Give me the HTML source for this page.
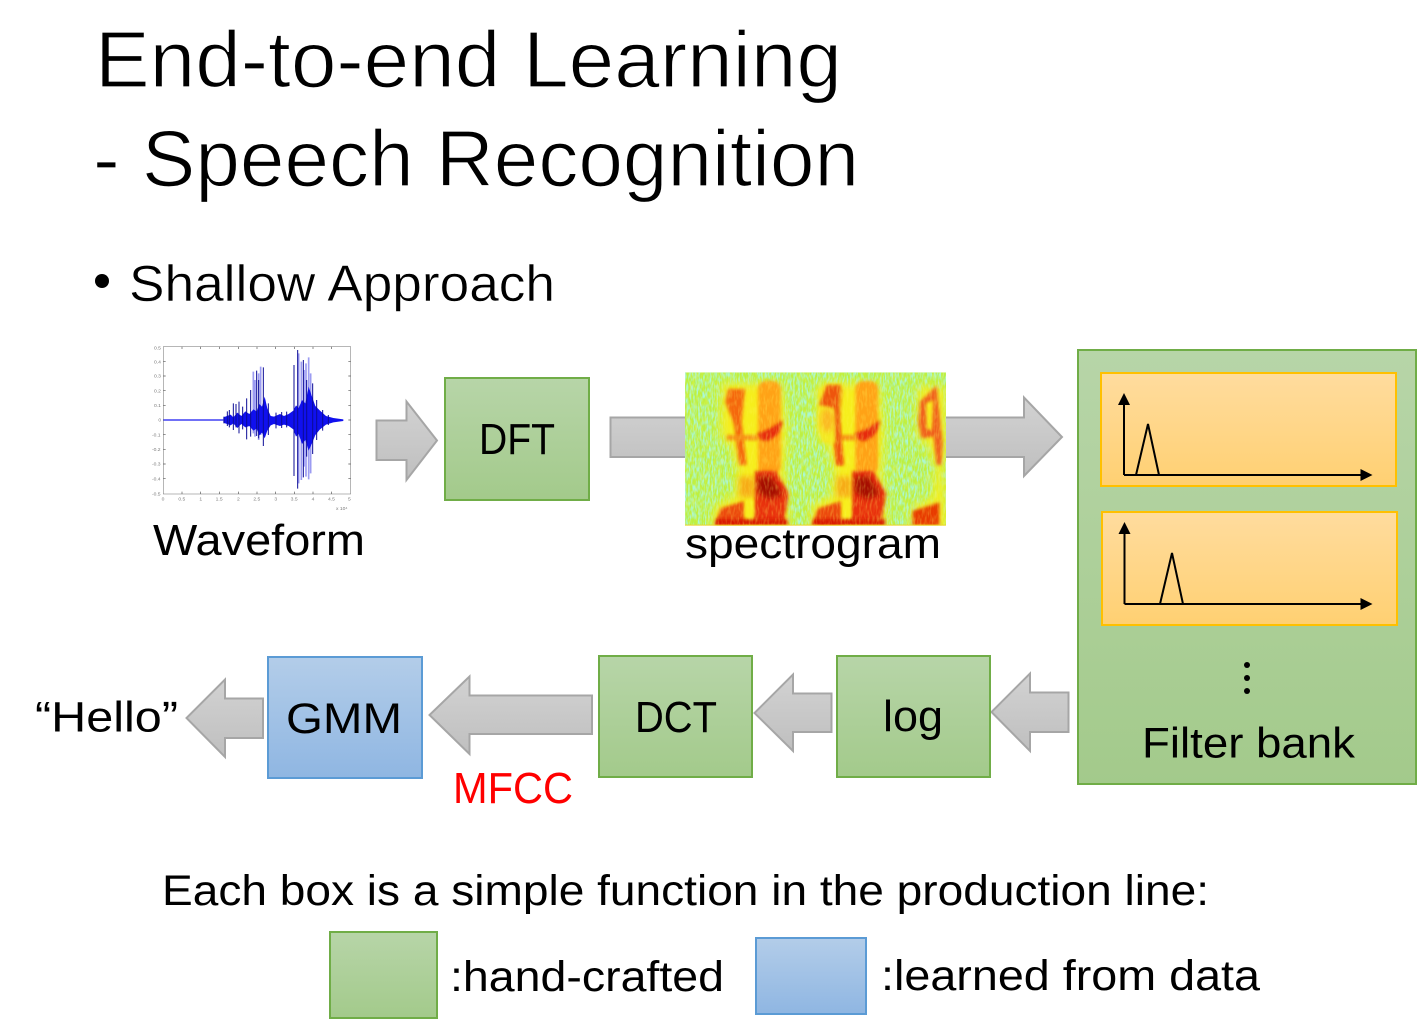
<!DOCTYPE html>
<html><head><meta charset="utf-8"><style>
html,body{margin:0;padding:0;background:#fff;width:1417px;height:1019px;overflow:hidden}
svg{display:block}
text{font-family:"Liberation Sans",sans-serif;fill:#000}
.t{stroke:#fff;stroke-width:1.3px}
.s{stroke:#fff;stroke-width:.5px}
.k{font-size:15px}
</style></head><body>
<svg width="1417" height="1019" viewBox="0 0 1417 1019" xmlns="http://www.w3.org/2000/svg">
<defs>
<linearGradient id="g" x1="0" y1="0" x2="0" y2="1"><stop offset="0" stop-color="#b7d5a8"/><stop offset="1" stop-color="#a3ca8b"/></linearGradient>
<linearGradient id="b" x1="0" y1="0" x2="0" y2="1"><stop offset="0" stop-color="#b3cde9"/><stop offset="1" stop-color="#8fb6e2"/></linearGradient>
<linearGradient id="o" x1="0" y1="0" x2="0" y2="1"><stop offset="0" stop-color="#ffdc9e"/><stop offset="1" stop-color="#ffd072"/></linearGradient>
<linearGradient id="a" x1="0" y1="0" x2="0" y2="1"><stop offset="0" stop-color="#d2d2d2"/><stop offset="1" stop-color="#bfbfbf"/></linearGradient>
<filter id="noise" x="0" y="0" width="100%" height="100%"><feTurbulence type="fractalNoise" baseFrequency="0.2 0.05" numOctaves="2" seed="4"/><feColorMatrix type="matrix" values="0 0 0 0 0.40  0 0 0 0 0.93  0 0 0 0 0.68  3 0 0 0 -1.15"/></filter>
<filter id="noise2" x="0" y="0" width="100%" height="100%"><feTurbulence type="fractalNoise" baseFrequency="0.16 0.04" numOctaves="2" seed="9"/><feColorMatrix type="matrix" values="0 0 0 0 1  0 0 0 0 0.92  0 0 0 0 0.1  3 0 0 0 -1.3"/></filter>
<filter id="b1" x="-40%" y="-40%" width="180%" height="180%"><feGaussianBlur stdDeviation="14"/></filter>
<filter id="b2" x="-40%" y="-40%" width="180%" height="180%"><feGaussianBlur stdDeviation="9"/></filter>
<filter id="b3" x="-40%" y="-40%" width="180%" height="180%"><feGaussianBlur stdDeviation="5"/></filter>
<clipPath id="sc"><rect x="15" y="22" width="783" height="460"/></clipPath>
<g id="word">
<path d="M125 55H305L320 200L312 320L328 490H95L105 420L165 395L170 310L150 235L120 215Z" fill="#f6ee1c" filter="url(#b1)"/>
<rect x="234" y="48" width="68" height="280" rx="24" fill="#ffa212" filter="url(#b3)"/>
<path d="M145 72H195L185 170L200 300H178L162 180L136 110Z" fill="#f5680f" filter="url(#b3)"/>
<path d="M232 205Q270 195 308 165Q304 212 262 228Q236 228 232 205Z" fill="#e62a08" filter="url(#b3)"/>
<rect x="140" y="210" width="95" height="16" fill="#f79012" filter="url(#b3)"/>
<path d="M225 318H288L326 385L312 470H222Z" fill="#e93208" filter="url(#b3)"/>
<path d="M232 335H275L308 388L270 402L232 382Z" fill="#a40c04" filter="url(#b2)"/>
<path d="M122 430L192 408V482H103Z" fill="#ec4a08" filter="url(#b3)"/>
<rect x="178" y="335" width="44" height="62" fill="#f7a012" filter="url(#b2)" opacity=".85"/>
<rect x="108" y="462" width="215" height="20" fill="#d81804" filter="url(#b3)"/>
<rect x="198" y="405" width="22" height="50" fill="#f8ee1c" filter="url(#b3)"/>
</g>
</defs>

<text class="t" x="95" y="87" font-size="80" textLength="747" lengthAdjust="spacingAndGlyphs">End-to-end Learning</text>
<text class="t" x="93" y="186" font-size="80" textLength="766" lengthAdjust="spacingAndGlyphs">- Speech Recognition</text>
<circle cx="102" cy="281" r="7"/>
<text class="s" x="129" y="301" font-size="51" textLength="426" lengthAdjust="spacingAndGlyphs">Shallow Approach</text>

<!-- waveform -->
<g transform="translate(140,340) scale(.33333)">
<rect x="70" y="20" width="562" height="442" fill="#fff" stroke="#777" stroke-width="1.6"/>
<g stroke="#555" stroke-width="2">
<path d="M70 64h7M70 108h7M70 152h7M70 196h7M70 240h7M70 284h7M70 328h7M70 372h7M70 416h7M632 64h-7M632 108h-7M632 152h-7M632 196h-7M632 240h-7M632 284h-7M632 328h-7M632 372h-7M632 416h-7M126 462v-7M182 462v-7M238 462v-7M295 462v-7M351 462v-7M407 462v-7M463 462v-7M519 462v-7M575 462v-7M126 20v7M182 20v7M238 20v7M295 20v7M351 20v7M407 20v7M463 20v7M519 20v7M575 20v7"/>
</g>
<g opacity=".55">
<text class="k" x="42" y="28">0.5</text><text class="k" x="42" y="70">0.4</text><text class="k" x="42" y="113">0.3</text><text class="k" x="42" y="157">0.2</text><text class="k" x="42" y="201">0.1</text><text class="k" x="55" y="245">0</text><text class="k" x="36" y="289">-0.1</text><text class="k" x="36" y="333">-0.2</text><text class="k" x="36" y="377">-0.3</text><text class="k" x="36" y="421">-0.4</text><text class="k" x="36" y="466">-0.5</text>
<text class="k" x="65" y="482">0</text><text class="k" x="115" y="482">0.5</text><text class="k" x="178" y="482">1</text><text class="k" x="227" y="482">1.5</text><text class="k" x="291" y="482">2</text><text class="k" x="340" y="482">2.5</text><text class="k" x="403" y="482">3</text><text class="k" x="452" y="482">3.5</text><text class="k" x="515" y="482">4</text><text class="k" x="564" y="482">4.5</text><text class="k" x="624" y="482">5</text><text class="k" x="588" y="510">x 10⁴</text>
</g>
<path d="M484 65V420M498 70V410M506 52V418M512 100V400M340 95V280M362 80V285M476 40V430M345 120V290M356 100V300M492 90V380" stroke="#9c9cf2" stroke-width="5" fill="none"/>
<path d="M70 240H250" stroke="#1a1af0" stroke-width="3.500" fill="none"/>
<path d="M250 232L272 224L280 232L292 218L304 228L316 214L328 222L340 208L350 214L358 192L366 200L374 170L382 205L392 228L402 230L420 222L432 228L446 222L460 212L468 196L476 204L486 180L496 190L506 140L516 170L526 198L540 212L558 228L580 234L610 238V243L580 247L558 254L540 268L526 285L516 310L506 332L496 300L486 312L476 282L468 290L460 268L446 258L432 254L420 258L402 252L392 256L382 272L374 295L366 278L358 286L350 266L340 272L328 258L316 262L304 252L292 264L280 250L272 256L250 248Z" fill="#1010ee"/>
<path d="M252 230V250M262 214V258M268 210V262M280 190V270M288 192V262M297 185V280M308 200V268M320 175V298M332 150V290M350 92V288M356 120V295M370 82V318M385 190V285M408 218V265M425 216V264M440 215V262M462 75V408M473 30V446M490 60V412M500 120V350M518 130V342M530 180V300M548 210V272M565 225V255" stroke="#0c0c96" stroke-width="3" fill="none"/>
</g>
<text x="153" y="555" font-size="44" textLength="212" lengthAdjust="spacingAndGlyphs">Waveform</text>

<!-- arrows -->
<g fill="url(#a)" stroke="#a6a6a6" stroke-width="2">
<polygon points="376.500,420.500 406.500,420.500 406.500,401.500 437,440.500 406.500,480 406.500,460 376.500,460"/>
<polygon points="610.500,417.500 1024,417.500 1024,397.500 1062,437 1024,476 1024,457 610.500,457"/>
<polygon points="1068.500,692.500 1030,692.500 1030,673.500 991.500,712 1030,751 1030,732 1068.500,732"/>
<polygon points="831.500,693.500 793,693.500 793,674.500 754.500,713 793,751 793,732 831.500,732"/>
<polygon points="592,695.500 469.500,695.500 469.500,676.500 429.500,715 469.500,754 469.500,734 592,734"/>
<polygon points="263,698.500 225,698.500 225,679.500 186.500,718 225,757 225,738 263,738"/>
</g>

<!-- spectrogram -->
<g transform="translate(680,365) scale(.33333)" clip-path="url(#sc)">
<rect x="15" y="22" width="783" height="460" fill="#bdf040"/>
<rect x="15" y="22" width="783" height="460" filter="url(#noise)"/>
<use href="#word"/>
<use href="#word" transform="translate(292,0)"/>
<path d="M414 75L440 55H486L478 235H430L414 190Z" fill="#f3ea22" filter="url(#b3)"/>
<path d="M418 120L440 60H482L478 120L488 300H470L462 130Z" fill="#ee5510" filter="url(#b3)"/>
<ellipse cx="442" cy="165" rx="20" ry="36" fill="#fbb820" filter="url(#b2)"/>
<g transform="translate(590,0)">
<path d="M125 65H205L208 230L200 320L212 490H100L108 425L170 400L176 300L150 232L122 215Z" fill="#f6ee1c" filter="url(#b1)"/>
<path d="M130 110L180 62L198 235L194 300H180L170 215L135 220L125 175ZM148 115L150 190L165 195L170 105Z" fill="#f0601a" fill-rule="evenodd" filter="url(#b3)"/>
<path d="M108 482V438L188 412V482Z" fill="#e83a06" filter="url(#b3)"/>
</g>
<rect x="15" y="22" width="783" height="460" filter="url(#noise2)" opacity=".28"/>
<rect x="15" y="479" width="783" height="3" fill="#f0d018"/>
</g>
<text x="685" y="558" font-size="43" textLength="256" lengthAdjust="spacingAndGlyphs">spectrogram</text>

<!-- boxes -->
<g stroke="#70ad47" stroke-width="2" fill="url(#g)">
<rect x="445" y="378" width="144" height="122"/>
<rect x="599" y="656" width="153" height="121"/>
<rect x="837" y="656" width="153" height="121"/>
<rect x="1078" y="350" width="338" height="434"/>
<rect x="330" y="932" width="107" height="86"/>
</g>
<g stroke="#5b9bd5" stroke-width="2" fill="url(#b)">
<rect x="268" y="657" width="154" height="121"/>
<rect x="756" y="938" width="110" height="76"/>
</g>
<text x="479" y="454" font-size="44" textLength="76" lengthAdjust="spacingAndGlyphs">DFT</text>
<text x="635" y="732" font-size="44" textLength="82" lengthAdjust="spacingAndGlyphs">DCT</text>
<text x="883" y="731" font-size="44" textLength="60" lengthAdjust="spacingAndGlyphs">log</text>
<text x="286" y="733" font-size="43" textLength="116" lengthAdjust="spacingAndGlyphs">GMM</text>
<text x="35" y="731.500" font-size="43" textLength="143" lengthAdjust="spacingAndGlyphs">“Hello”</text>
<text x="453" y="803" font-size="44" textLength="120" lengthAdjust="spacingAndGlyphs" style="fill:#ff0000">MFCC</text>

<!-- filter bank -->
<g fill="url(#o)" stroke="#ffc000" stroke-width="2">
<rect x="1101" y="373" width="295" height="113"/>
<rect x="1102" y="512" width="295" height="113"/>
</g>
<g fill="none" stroke="#000" stroke-width="2">
<path d="M1124 475V402M1124 475H1362M1136 475L1148 424L1159 475"/>
<path d="M1124.500 604V531M1124.500 604H1362M1160 604L1172 553L1183 604"/>
</g>
<polygon points="1124,393 1130,405 1118,405"/>
<polygon points="1372.500,475 1360.500,469 1360.500,481"/>
<polygon points="1124.500,522 1130.500,534 1118.500,534"/>
<polygon points="1372.500,604 1360.500,598 1360.500,610"/>
<circle cx="1247" cy="665" r="3"/><circle cx="1247" cy="678" r="3"/><circle cx="1247" cy="691" r="3"/>
<text x="1142" y="757.500" font-size="43" textLength="213" lengthAdjust="spacingAndGlyphs">Filter bank</text>

<text x="162" y="905" font-size="43" textLength="1047" lengthAdjust="spacingAndGlyphs">Each box is a simple function in the production line:</text>
<text x="450" y="991" font-size="43" textLength="274" lengthAdjust="spacingAndGlyphs">:hand-crafted</text>
<text x="881" y="990" font-size="43" textLength="379" lengthAdjust="spacingAndGlyphs">:learned from data</text>
</svg>
</body></html>
